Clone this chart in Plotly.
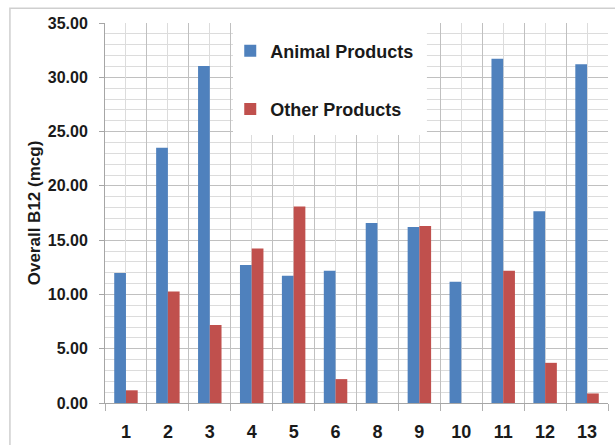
import plotly.graph_objects as go

# Sample labels (7 is absent in the series)
categories = ["1", "2", "3", "4", "5", "6", "8", "9", "10", "11", "12", "13"]
animal_products = [11.98, 23.52, 31.04, 12.70, 11.72, 12.18, 16.58, 16.22, 11.17, 31.70, 17.67, 31.20]
other_products = [1.17, 10.27, 7.18, 14.22, 18.10, 2.20, 0.0, 16.31, 0.0, 12.18, 3.70, 0.88]
y_ticks = [0, 5, 10, 15, 20, 25, 30, 35]

BLUE = "#4F81BD"
RED = "#C0504D"
TXT = "#1a1a1a"
FONT = "Liberation Sans, Arial, sans-serif"

fig = go.Figure()
fig.add_trace(go.Bar(name="Animal Products", x=categories, y=animal_products,
                     marker=dict(color=BLUE, line=dict(width=0)), legendgroup="a"))
fig.add_trace(go.Bar(name="Other Products", x=categories, y=other_products,
                     marker=dict(color=RED, line=dict(width=0)), legendgroup="b"))

n = len(categories)
fig.update_layout(
    width=615, height=445,
    margin=dict(l=105, r=7, t=23, b=42),
    paper_bgcolor="white", plot_bgcolor="white",
    barmode="group", bargap=0.44, bargroupgap=0,
    font=dict(family=FONT, color=TXT),
    xaxis=dict(
        type="category", range=[-0.5, n - 0.5], tickson="boundaries",
        showgrid=True, gridcolor="#c0c0c0", gridwidth=1, automargin=False,
        ticks="outside", ticklen=7, tickcolor="#b0b0b0",
        showline=True, linecolor="#a6a6a6", linewidth=1,
        tickfont=dict(family=FONT, size=18, weight="bold", color=TXT),
        ticklabelstandoff=12,
    ),
    xaxis2=dict(
        overlaying="x", range=[-0.5, n - 0.5], tick0=0, dtick=1,
        showgrid=True, gridcolor="#dcdcdc", showticklabels=False,
        ticks="", zeroline=False, showline=False,
    ),
    yaxis=dict(
        range=[0, 35], tickvals=y_ticks, tickformat=".2f", automargin=False,
        showgrid=True, gridcolor="#c0c0c0", gridwidth=1,
        minor=dict(dtick=1, showgrid=True, gridcolor="#dcdcdc"),
        ticks="outside", ticklen=5, tickcolor="#a6a6a6",
        showline=True, linecolor="#a6a6a6", linewidth=1, zeroline=False,
        tickfont=dict(family=FONT, size=16, weight="bold", color=TXT),
        ticklabelstandoff=8,
        title=dict(text="Overall B12 (mcg)", standoff=2,
                   font=dict(family=FONT, size=17, weight="bold", color=TXT)),
    ),
    legend=dict(
        x=0.249, xanchor="left", y=0.975, yanchor="top",
        bgcolor="rgba(0,0,0,0)", borderwidth=0,
        tracegroupgap=32, traceorder="grouped",
        font=dict(family=FONT, size=18, weight="bold", color=TXT),
    ),
    shapes=[
        # white panel behind the legend
        dict(type="rect", xref="paper", yref="paper",
             x0=0.2545, x1=0.640, y0=0.705, y1=1.018,
             fillcolor="white", line=dict(width=0), layer="above"),
        # outer chart border
        dict(type="rect", xref="paper", yref="paper",
             x0=-0.189, x1=1.05, y0=-0.15, y1=1.039,
             fillcolor="rgba(0,0,0,0)", line=dict(color="#cfcfcf", width=1.5),
             layer="above"),
    ],
)
# invisible trace to activate the overlaid axis used for the centre gridlines
fig.add_trace(go.Scatter(x=[0], y=[0], xaxis="x2", mode="markers",
                         marker=dict(opacity=0), showlegend=False, hoverinfo="skip"))

fig.write_html("out.html")
